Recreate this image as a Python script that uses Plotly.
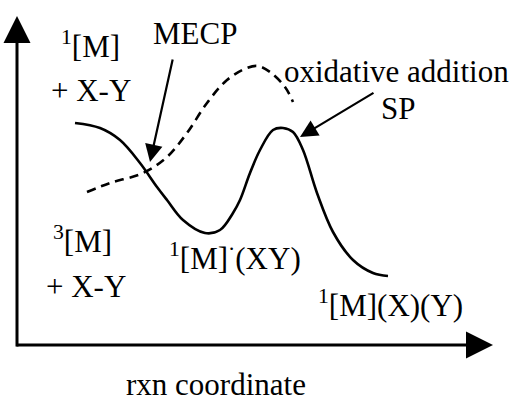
import plotly.graph_objects as go

H = 401
# reaction coordinate (x) and energy (y, up) of the singlet (solid) surface
singlet_x = [75, 100, 120, 140, 157, 167, 183, 205, 220, 233, 240, 250, 260, 273, 283, 293, 303, 317, 333, 353, 373, 388]
singlet_py = [123, 128, 140, 163, 187, 200, 220, 233, 230, 213, 200, 173, 150, 130, 128, 132, 150, 193, 232, 260, 273, 276]
# triplet (dashed) surface
triplet_x = [87, 110, 143, 167, 187, 207, 227, 247, 258, 270, 285, 293]
triplet_py = [192, 183, 173, 157, 133, 103, 80, 68, 66, 72, 87, 102]

singlet_y = [H - v for v in singlet_py]
triplet_y = [H - v for v in triplet_py]

FONT = dict(family="Liberation Serif", size=31, color="black")

fig = go.Figure()
fig.add_trace(go.Scatter(x=singlet_x, y=singlet_y, mode="lines",
                         line=dict(color="black", width=2.6, shape="spline", smoothing=1.0),
                         hoverinfo="skip"))
fig.add_trace(go.Scatter(x=triplet_x, y=triplet_y, mode="lines",
                         line=dict(color="black", width=2.6, shape="spline", smoothing=1.0, dash="9px,6px"),
                         hoverinfo="skip"))

anns = []
# axes as arrows
anns.append(dict(x=17, y=H - 16, ax=17, ay=H - 348, xref="x", yref="y", axref="x", ayref="y",
                 showarrow=True, arrowhead=2, arrowsize=1.8, arrowwidth=3, arrowcolor="black", text=""))
anns.append(dict(x=493, y=H - 345, ax=15, ay=H - 345, xref="x", yref="y", axref="x", ayref="y",
                 showarrow=True, arrowhead=2, arrowsize=1.8, arrowwidth=3, arrowcolor="black", text=""))
# pointer arrows
anns.append(dict(x=150, y=H - 162, ax=173, ay=H - 58, xref="x", yref="y", axref="x", ayref="y",
                 showarrow=True, arrowhead=2, arrowsize=1.6, arrowwidth=2.2, arrowcolor="black", text=""))
anns.append(dict(x=300, y=H - 137, ax=375, ay=H - 92, xref="x", yref="y", axref="x", ayref="y",
                 showarrow=True, arrowhead=2, arrowsize=1.6, arrowwidth=2.2, arrowcolor="black", text=""))

labels = [
    ("<sup>1</sup>[M]", 60, 58),
    ("+ X-Y", 50, 102),
    ("MECP", 152, 45),
    ("oxidative addition", 283, 83),
    ("SP", 380, 120),
    ("<sup>3</sup>[M]", 52, 253),
    ("+ X-Y", 45, 298),
    ("<sup>1</sup>[M]<sup>·</sup>(XY)", 168, 270),
    ("<sup>1</sup>[M](X)(Y)", 317, 317),
    ("rxn coordinate", 125, 396),
]
for txt, lx, base in labels:
    anns.append(dict(x=lx, y=H - base, xref="x", yref="y", text=txt, showarrow=False,
                     xanchor="left", yanchor="bottom", yshift=-7, font=FONT, borderpad=0))

fig.update_layout(
    width=513, height=401, margin=dict(l=0, r=0, t=0, b=0),
    paper_bgcolor="white", plot_bgcolor="white", showlegend=False,
    font=dict(family="Liberation Serif"),
    xaxis=dict(range=[0, 513], visible=False, fixedrange=True),
    yaxis=dict(range=[0, H], visible=False, fixedrange=True),
    annotations=anns,
)
fig.write_html("out.html", config={"displayModeBar": False},
               post_script="document.body.style.margin='0';document.body.style.overflow='hidden';")
